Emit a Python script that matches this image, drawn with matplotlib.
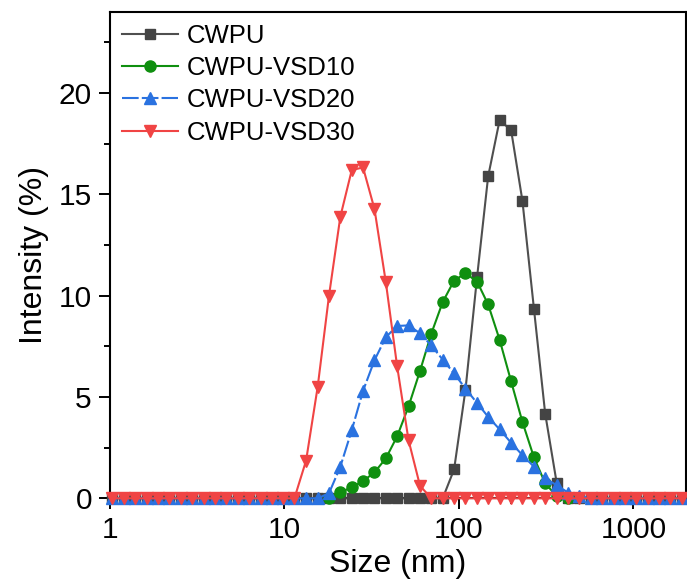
import matplotlib
matplotlib.use("Agg")
import matplotlib.pyplot as plt
from matplotlib.ticker import FixedLocator, MultipleLocator, NullFormatter

plt.rcParams['font.family'] = ['Liberation Sans', 'DejaVu Sans']

# size bins (nm)
size_nm = [1.03, 1.20, 1.40, 1.62, 1.89, 2.19, 2.55, 2.96, 3.44, 4.00,
           4.64, 5.40, 6.27, 7.29, 8.47, 9.85, 11.4, 13.3, 15.5, 18.0,
           20.9, 24.3, 28.2, 32.8, 38.1, 44.2, 51.4, 59.8, 69.4, 80.7,
           93.8, 109, 127, 147, 171, 199, 231, 269, 312, 363,
           422, 490, 569, 662, 769, 894, 1038, 1206, 1402, 1629, 1894]

# intensity (%) per bin
cwpu = [0]*29 + [0, 1.43, 5.36, 10.91, 15.88, 18.65, 18.16, 14.68, 9.35, 4.18,
                 0.77, 0] + [0]*10
vsd10_x = size_nm[19:41]
vsd10 = [0, 0.30, 0.54, 0.85, 1.28, 1.97, 3.05, 4.53, 6.28, 8.12, 9.68,
         10.74, 11.10, 10.69, 9.56, 7.82, 5.77, 3.77, 2.02, 0.74, 0.11, 0]
vsd20 = [0]*19 + [0.25, 1.56, 3.36, 5.30, 6.81, 7.95, 8.50, 8.53, 8.14, 7.54,
                  6.84, 6.16, 5.41, 4.70, 4.02, 3.40, 2.74, 2.13, 1.56, 0.98,
                  0.65, 0.28, 0.12] + [0]*9
vsd30 = [0]*17 + [1.86, 5.50, 10.0, 13.89, 16.19, 16.32, 14.27, 10.66, 6.53,
                  2.87, 0.62] + [0]*23

labels = ['CWPU', 'CWPU-VSD10', 'CWPU-VSD20', 'CWPU-VSD30']

fig = plt.figure(figsize=(6.87, 5.81), dpi=100)
ax = fig.add_axes([0.1601, 0.1423, 0.8384, 0.8375])

ax.plot(size_nm, cwpu, '-s', color='#4f4f4f', mfc='#444444', mec='#444444',
        lw=1.5, ms=6.5, label=labels[0], clip_on=False, zorder=3)
ax.plot(vsd10_x, vsd10, '-o', color='#0f8f0f', lw=1.5, ms=8,
        label=labels[1], clip_on=False, zorder=4)
ax.plot(size_nm, vsd20, marker='^', ls=(0, (8, 1.5)), color='#2a72e0', lw=1.5,
        ms=8.5, label=labels[2], clip_on=False, zorder=5)
ax.plot(size_nm, vsd30, '-v', color='#f04444', lw=1.5, ms=9,
        label=labels[3], clip_on=False, zorder=6)

ax.set_xscale('log')
ax.set_xlim(1, 2000)
ax.set_ylim(0, 24)

ax.xaxis.set_major_locator(FixedLocator([1, 10, 100, 1000]))
ax.set_xticklabels(['1', '10', '100', '1000'])
minors = [m * d for d in [1, 10, 100, 1000] for m in [2, 4, 6, 8]]
ax.xaxis.set_minor_locator(FixedLocator(minors))
ax.xaxis.set_minor_formatter(NullFormatter())
ax.yaxis.set_major_locator(MultipleLocator(5))
ax.yaxis.set_minor_locator(MultipleLocator(2.5))

ax.tick_params(which='major', direction='out', length=8, width=1.4,
               labelsize=21.5, pad=5)
ax.tick_params(which='minor', direction='out', length=4, width=1.4)
for s in ax.spines.values():
    s.set_linewidth(1.5)

ax.set_xlabel('Size (nm)', fontsize=23, labelpad=3)
ax.set_ylabel('Intensity (%)', fontsize=23, labelpad=7)

ax.legend(loc='upper left', bbox_to_anchor=(0.02, 0.975), frameon=False,
          fontsize=18.5, handlelength=2.2, handletextpad=0.35,
          labelspacing=0.32, borderaxespad=0, borderpad=0)

fig.savefig('out.png', dpi=100)
